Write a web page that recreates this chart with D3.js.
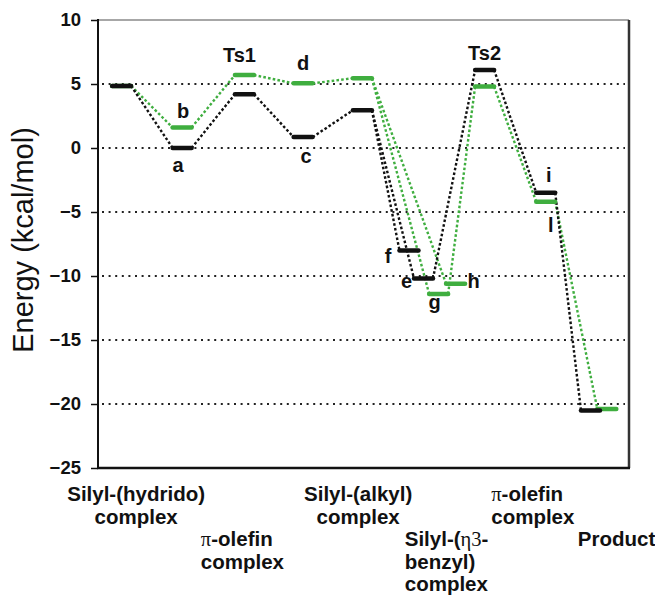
<!DOCTYPE html>
<html lang="en">
<head>
<meta charset="UTF-8">
<title>Energy profile</title>
<script src="https://d3js.org/d3.v7.min.js"></script>
<style>
    body { margin: 0; padding: 0; background: #fff; }
    svg { display: block; }
    text { font-family: "Liberation Sans", Arial, sans-serif; fill: #111; }
    .tick text { font-weight: bold; font-size: 18.5px; }
    .lbl { font-weight: bold; font-size: 20px; }
    .cat { font-weight: bold; font-size: 20.5px; }
    .greek { font-family: "Liberation Serif", "Times New Roman", serif; font-weight: normal; }
</style>
</head>
<body>
<svg id="chart" width="655" height="595"></svg>
<script>
    // reaction coordinate position (stage units) and energy of each level
    const blackIds = ["start", "a", "ts1", "c", "alkyl", "f", "e", "ts2", "i", "prod"];
    const blackPos = [0.39, 1.39, 2.42, 3.39, 4.37, 5.14, 5.38, 6.39, 7.40, 8.14];
    const blackEnergy = [4.85, 0, 4.2, 0.85, 2.95, -8.0, -10.2, 6.1, -3.5, -20.5];

    const greenIds = ["start", "b", "ts1", "d", "alkyl", "g", "h", "ts2", "l", "prod"];
    const greenPos = [0.39, 1.39, 2.42, 3.39, 4.37, 5.63, 5.91, 6.39, 7.40, 8.41];
    const greenEnergy = [4.85, 1.6, 5.7, 5.05, 5.45, -11.4, -10.6, 4.8, -4.2, -20.4];

    // which levels are joined by the dotted connectors
    const blackPaths = [[0, 1, 2, 3, 4, 5], [4, 6, 7, 8, 9]];
    const greenPaths = [[0, 1, 2, 3, 4, 6], [4, 5, 7, 8, 9]];

    const yTicks = [10, 5, 0, -5, -10, -15, -20, -25];
    const gridValues = [5, 0, -5, -10, -15, -20];

    // point labels: text, series, level index
    const pointLabels = [
        ["a", "black", 1], ["b", "green", 1], ["Ts1", "green", 2], ["d", "green", 3],
        ["c", "black", 3], ["f", "black", 5], ["e", "black", 6], ["g", "green", 5],
        ["h", "green", 6], ["Ts2", "black", 7], ["i", "black", 8], ["l", "green", 8]
    ];
    const labelNudge = {
        a: [-4, 24], b: [1, -10], Ts1: [-5, -13], d: [0, -13], c: [3, 26],
        f: [-21, 13], e: [-17, 9], g: [-4, 15], h: [18, 4], Ts2: [0, -10],
        i: [3, -11], l: [5, 30]
    };

    const categories = [
        ["Silyl-(hydrido)", "complex"],
        ["π-olefin", "complex"],
        ["Silyl-(alkyl)", "complex"],
        ["Silyl-(η3-", "benzyl)", "complex"],
        ["π-olefin", "complex"],
        ["Product"]
    ];
    const catPos = [0.63, 1.70, 4.30, 5.07, 6.50, 7.93];
    const catAnchor = ["middle", "start", "middle", "start", "start", "start"];
    const catRow = [0, 2, 0, 2, 0, 2];

    const svg = d3.select("#chart");
    const mLeft = 98, mRight = 629, mTop = 20, mBottom = 468;

    const x = d3.scaleLinear().domain([0, 8.76]).range([mLeft, 628]);
    const y = d3.scaleLinear().domain([-25, 10]).range([mBottom, mTop]);

    const black = "#111", green = "#3fae3f";
    const hw = 9.5;

    // gridlines
    svg.append("g").selectAll("line")
        .data(gridValues)
        .enter().append("line")
        .attr("x1", mLeft + 4).attr("x2", mRight - 4)
        .attr("y1", d => y(d)).attr("y2", d => y(d))
        .attr("stroke", "#222")
        .attr("stroke-width", 2)
        .attr("stroke-dasharray", "2,4.6");

    // frame
    svg.append("line").attr("x1", mLeft).attr("x2", mRight).attr("y1", mTop).attr("y2", mTop)
        .attr("stroke", "#8a8a8a").attr("stroke-width", 1.5);
    svg.append("line").attr("x1", mRight).attr("x2", mRight).attr("y1", mTop).attr("y2", mBottom)
        .attr("stroke", "#333").attr("stroke-width", 2.5);

    // y axis
    const yAxis = svg.append("g")
        .attr("transform", `translate(${mLeft},0)`)
        .call(d3.axisLeft(y).tickValues(yTicks).tickSize(7).tickPadding(10));
    yAxis.select(".domain").remove();
    yAxis.selectAll(".tick line").attr("stroke", "#111").attr("stroke-width", 1.5);
    yAxis.selectAll(".tick text").attr("fill", "#111");

    svg.append("line").attr("x1", mLeft).attr("x2", mLeft).attr("y1", mTop - 1).attr("y2", mBottom)
        .attr("stroke", "#111").attr("stroke-width", 2);
    svg.append("line").attr("x1", mLeft - 1).attr("x2", mRight + 1).attr("y1", mBottom).attr("y2", mBottom)
        .attr("stroke", "#111").attr("stroke-width", 2.5);

    // connectors
    function connectors(paths, pos, energy, color) {
        const segs = [];
        paths.forEach(p => {
            for (let k = 0; k < p.length - 1; k++) segs.push([p[k], p[k + 1]]);
        });
        svg.append("g").selectAll("line")
            .data(segs)
            .enter().append("line")
            .attr("x1", d => x(pos[d[0]]) + hw)
            .attr("y1", d => y(energy[d[0]]))
            .attr("x2", d => x(pos[d[1]]) - hw)
            .attr("y2", d => y(energy[d[1]]))
            .attr("stroke", color)
            .attr("stroke-width", 2.4)
            .attr("stroke-dasharray", "2.6,2.2");
    }
    connectors(greenPaths, greenPos, greenEnergy, green);
    connectors(blackPaths, blackPos, blackEnergy, black);

    // level bars
    function bars(pos, energy, color) {
        svg.append("g").selectAll("line")
            .data(pos)
            .enter().append("line")
            .attr("x1", (d, i) => x(d) - hw)
            .attr("x2", (d, i) => x(d) + hw)
            .attr("y1", (d, i) => y(energy[i]))
            .attr("y2", (d, i) => y(energy[i]))
            .attr("stroke", color)
            .attr("stroke-width", 4.5)
            .attr("stroke-linecap", "round");
    }
    bars(greenPos, greenEnergy, green);
    bars(blackPos, blackEnergy, black);

    // point labels
    svg.append("g").selectAll("text")
        .data(pointLabels)
        .enter().append("text")
        .attr("class", "lbl")
        .attr("text-anchor", "middle")
        .attr("x", d => {
            const pos = d[1] === "black" ? blackPos : greenPos;
            return x(pos[d[2]]) + labelNudge[d[0]][0];
        })
        .attr("y", d => {
            const en = d[1] === "black" ? blackEnergy : greenEnergy;
            return y(en[d[2]]) + labelNudge[d[0]][1];
        })
        .text(d => d[0]);

    // category labels
    function addLine(textSel, str) {
        str.split(/(π|η3)/).filter(s => s.length).forEach(part => {
            textSel.append("tspan")
                .attr("class", /^(π|η3)$/.test(part) ? "greek" : null)
                .text(part);
        });
    }
    const rowY = 501, rowGap = 22.5;
    categories.forEach((lines, ci) => {
        lines.forEach((ln, li) => {
            const t = svg.append("text")
                .attr("class", "cat")
                .attr("text-anchor", catAnchor[ci])
                .attr("x", x(catPos[ci]))
                .attr("y", rowY + (catRow[ci] + li) * rowGap);
            addLine(t, ln);
        });
    });

    // axis title
    svg.append("text")
        .attr("transform", "translate(33,240) rotate(-90)")
        .attr("text-anchor", "middle")
        .attr("font-size", 29)
        .text("Energy (kcal/mol)");
</script>
</body>
</html>
